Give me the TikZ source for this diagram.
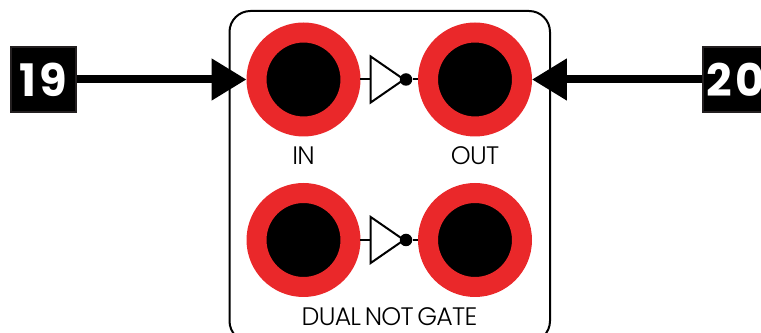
\documentclass[tikz,border=0pt]{standalone}
\usepackage{fontspec}
\usetikzlibrary{arrows.meta}
\newfontfamily\captionfont{Poppins}[UprightFont=* Light,LetterSpace=-3,WordSpace=0.6]
\newfontfamily\numfont{Poppins}[UprightFont=* Bold,LetterSpace=7]
\definecolor{jackred}{RGB}{234,40,42}
\definecolor{boxedge}{RGB}{35,31,32}

\tikzset{
	jack/.style={circle,fill=black,draw=jackred,line width=0.4cm,minimum size=1.88cm,inner sep=0pt},
	numbox/.style={fill=black,draw=boxedge,line width=0.04cm,minimum size=1.3cm,inner sep=0pt,text=white,font=\fontsize{25.5}{25.5}\numfont},
	bubble/.style={circle,fill=black,minimum size=0.25cm,inner sep=0pt},
	caption/.style={inner sep=0pt,font=\fontsize{14.4}{16}\captionfont},
	feed/.style={line width=0.16cm,-{Triangle[length=0.7cm,width=0.8cm]}},
	thinline/.style={line width=0.04cm}
}

\begin{document}
\begin{tikzpicture}[x=0.02cm,y=-0.02cm]
\useasboundingbox (0,0) rectangle (761,333);
\clip (0,0) rectangle (761,333);

% frame
\draw[line width=0.04cm,rounded corners=0.42cm] (229.5,11) rectangle (550,342);

% jacks and gates
\foreach \n/\y in {1/79.5,2/240}{
	\node[jack] (in\n) at (303.5,\y) {};
	\node[jack] (out\n) at (475,\y) {};
	\coordinate (gate\n) at (370.7,\y);
	\draw[thinline] (370.7,\y-23) -- (370.7,\y+23) -- (404,\y) -- cycle;
	\node[bubble] (bubble\n) at (406,\y) {};
	\draw[thinline] (in\n) -- (gate\n);
	\draw[thinline] (bubble\n) -- (out\n);
}

% labels
\node[caption] (inlabel) at (303.5,156) {IN};
\node[caption] (outlabel) at (475,156) {OUT};
\node[caption] (gatelabel) at (389.5,317) {DUAL NOT GATE};

% numbers
\node[numbox] (num19) at (43.5,79.5) {19};
\node[numbox] (num20) at (735.5,79.5) {20};
\draw[feed] (num19) -- (in1);
\draw[feed] (num20) -- (out1);

\end{tikzpicture}
\end{document}
